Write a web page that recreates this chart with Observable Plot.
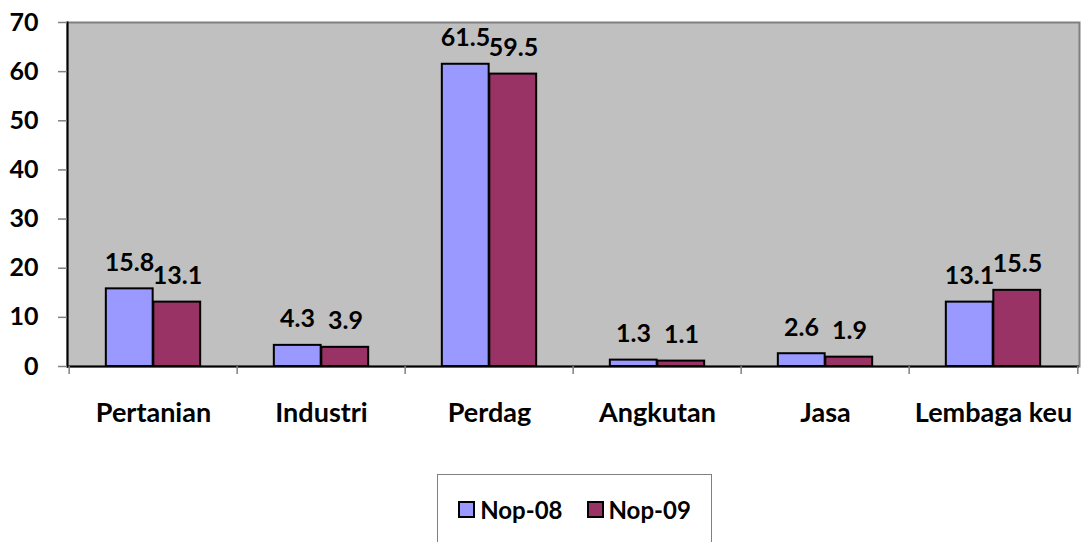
<!DOCTYPE html>
<html>
<head>
<meta charset="utf-8">
<script src="https://cdn.jsdelivr.net/npm/d3@7"></script>
<script src="https://cdn.jsdelivr.net/npm/@observablehq/plot@0.6"></script>
<style>
  body { margin: 0; background: #fff; font-family: Lato, "Open Sans", sans-serif; }
  #chart svg { display: block; }
  #legend {
    position: absolute; left: 437px; top: 474px; width: 275px; height: 90px;
    border: 1px solid #808080; box-sizing: border-box; background: #fff;
    display: flex; justify-content: center; align-items: flex-start; padding-top: 20px; gap: 24px;
    font: bold 24px Lato, sans-serif; color: #000;
  }
  .item { display: flex; align-items: center; gap: 5px; }
  .sw { width: 13px; height: 13px; border: 2px solid #000; }
</style>
</head>
<body>
<div id="chart"></div>
<div id="legend"></div>
<script>
const categories = ["Pertanian", "Industri", "Perdag", "Angkutan", "Jasa", "Lembaga keu"];
const nop08 = [15.8, 4.3, 61.5, 1.3, 2.6, 13.1];
const nop09 = [13.1, 3.9, 59.5, 1.1, 1.9, 15.5];
const seriesNames = ["Nop-08", "Nop-09"];
const seriesColors = ["#9999FF", "#993366"];
const yTicks = [0, 10, 20, 30, 40, 50, 60, 70];

const rows = categories.map((c, i) => ({cat: c, v08: nop08[i], v09: nop09[i]}));

const W = 1081, H = 474, ML = 67, MR = 2;
const half = (W - ML - MR) / categories.length / 2;

const chart = Plot.plot({
  width: W, height: H,
  marginLeft: ML, marginRight: MR, marginTop: 22, marginBottom: H - 366,
  x: {domain: categories, padding: 0},
  y: {domain: [0, 70], ticks: yTicks},
  style: {fontFamily: "Lato, sans-serif", color: "#000", overflow: "visible"},
  marks: [
    Plot.frame({fill: "#C0C0C0", stroke: "#808080", strokeWidth: 2}),
    Plot.barY(rows, {x: "cat", y: "v08", fill: seriesColors[0], stroke: "#000", strokeWidth: 2,
      insetLeft: half - 48 + 0.5, insetRight: half}),
    Plot.barY(rows, {x: "cat", y: "v09", fill: seriesColors[1], stroke: "#000", strokeWidth: 2,
      insetLeft: half, insetRight: half - 48 + 0.5}),
    Plot.text(rows, {x: "cat", y: "v08", text: d => d.v08.toFixed(1), dx: -24, dy: -18,
      lineAnchor: "bottom", fontSize: 25, fontWeight: "bold", fill: "#000"}),
    Plot.text(rows, {x: "cat", y: "v09", text: d => d.v09.toFixed(1), dx: 24, dy: -18,
      lineAnchor: "bottom", fontSize: 25, fontWeight: "bold", fill: "#000"}),
    Plot.ruleY([0], {stroke: "#000", strokeWidth: 2}),
    Plot.frame({anchor: "left", stroke: "#000", strokeWidth: 2}),
    Plot.ruleX(categories, {x: d => d, y1: 0, y2: -1.65, dx: -half, stroke: "#808080", strokeWidth: 1.5}),
    Plot.ruleX(categories.slice(-1), {x: d => d, y1: 0, y2: -1.65, dx: half, stroke: "#808080", strokeWidth: 1.5}),
    Plot.axisY(yTicks, {tickSize: 9, tickPadding: 20, stroke: "#808080", strokeWidth: 1.5,
      fontSize: 25, fontWeight: "bold", label: null}),
    Plot.axisX({tickSize: 0, tickPadding: 36, fontSize: 27, fontWeight: "bold", label: null})
  ]
});
document.getElementById("chart").append(chart);

const legend = document.getElementById("legend");
seriesNames.forEach((n, i) => {
  const it = document.createElement("div");
  it.className = "item";
  const sw = document.createElement("div");
  sw.className = "sw";
  sw.style.background = seriesColors[i];
  const t = document.createElement("span");
  t.textContent = n;
  it.append(sw, t);
  legend.append(it);
});
</script>
</body>
</html>
